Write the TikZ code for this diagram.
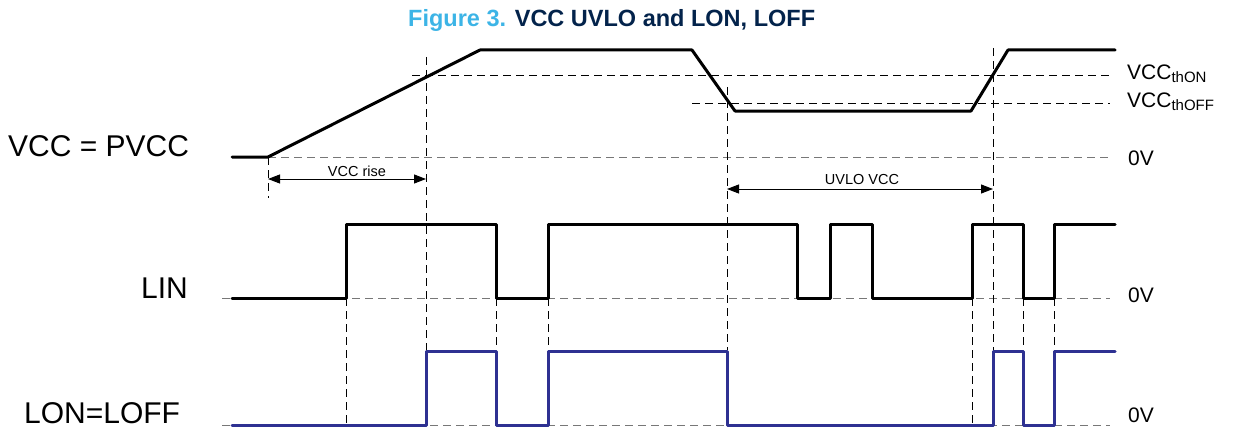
\documentclass[tikz,border=0pt]{standalone}
\usepackage{fontspec}
\setmainfont{Liberation Sans}
\definecolor{stLight}{HTML}{3CB4E6}
\definecolor{stDark}{HTML}{03234B}
\definecolor{lonBlue}{HTML}{2E3192}
\definecolor{guideGray}{HTML}{777777}
\usetikzlibrary{arrows.meta}

\begin{document}
\begin{tikzpicture}[x=1pt, y=-1pt,
  wave/.style={line width=3pt, line join=round, line cap=round},
  guide/.style={line width=0.9pt, dash pattern=on 8pt off 5pt},
  zero/.style={guide, color=guideGray},
  dim/.style={{Triangle[length=12pt,width=9pt]}-{Triangle[length=12pt,width=9pt]}, line width=1pt},
  sig/.style={font=\fontsize{30}{36}\selectfont, inner sep=0pt},
  lvl/.style={font=\fontsize{21}{25}\selectfont, inner sep=0pt, anchor=base west},
  dimlabel/.style={font=\fontsize{14.5}{17}\selectfont, inner sep=0pt}
]
  \useasboundingbox (0,0) rectangle (1235,428);

  % Title
  \node[font=\fontsize{23.5}{28}\selectfont\bfseries, anchor=base west, inner sep=0pt] (title)
    at (408,27) {\textcolor{stLight}{Figure 3.} \textcolor{stDark}{VCC UVLO and LON, LOFF}};

  % Threshold and 0V guides
  \draw[guide] (412,75) -- (1110,75);
  \draw[guide] (692,103) -- (1110,103);
  \draw[zero] (268,157) -- (1110,157);
  \draw[zero] (222,298) -- (1110,298);
  \draw[zero] (222,425) -- (1110,425);

  % Timing guides
  \draw[guide] (268,157) -- (268,198);
  \draw[guide] (426,57) -- (426,350);
  \draw[guide] (727,87) -- (727,350);
  \draw[guide] (993,48) -- (993,350);
  \draw[guide] (346,298) -- (346,425);
  \draw[guide] (496,298) -- (496,350);
  \draw[guide] (548,298) -- (548,350);
  \draw[guide] (972,298) -- (972,425);
  \draw[guide] (1023,298) -- (1023,350);
  \draw[guide] (1054,298) -- (1054,350);

  % Waveforms
  \draw[wave] (232,157) -- (268,157) -- (480,50) -- (692,50) -- (735,111)
    -- (971,111) -- (1008,50) -- (1115,50);
  \draw[wave] (232,298) -- (346,298) -- (346,224) -- (496,224) -- (496,298)
    -- (548,298) -- (548,224) -- (797,224) -- (797,298) -- (830,298) -- (830,224)
    -- (872,224) -- (872,298) -- (972,298) -- (972,224) -- (1023,224) -- (1023,298)
    -- (1054,298) -- (1054,224) -- (1115,224);
  \draw[wave, lonBlue] (232,425) -- (426,425) -- (426,351) -- (496,351) -- (496,425)
    -- (548,425) -- (548,351) -- (727,351) -- (727,425) -- (993,425) -- (993,351)
    -- (1023,351) -- (1023,425) -- (1054,425) -- (1054,351) -- (1115,351);

  % Signal names
  \node[sig, anchor=base west] (vcc) at (8,156) {VCC = PVCC};
  \node[sig, anchor=base east] (lin) at (188,298) {LIN};
  \node[sig, anchor=base west] (lon) at (24,423) {LON=LOFF};

  % Levels
  \node[lvl] (thon) at (1127,80) {VCC\raisebox{-3pt}{\fontsize{15}{18}\selectfont thON}};
  \node[lvl] (thoff) at (1127,107) {VCC\raisebox{-3pt}{\fontsize{15}{18}\selectfont thOFF}};
  \node[lvl] (zvcc) at (1128,165) {0V};
  \node[lvl] (zlin) at (1128,302) {0V};
  \node[lvl] (zlon) at (1128,422) {0V};

  % Durations
  \coordinate (riseA) at (268,179);
  \coordinate (riseB) at (426,179);
  \coordinate (uvloA) at (727,189);
  \coordinate (uvloB) at (993,189);
  \draw[dim] (riseA) -- (riseB);
  \draw[dim] (uvloA) -- (uvloB);
  \node[dimlabel] (rise) at (357,171) {VCC rise};
  \node[dimlabel] (uvlo) at (862,180) {UVLO VCC};
\end{tikzpicture}
\end{document}
